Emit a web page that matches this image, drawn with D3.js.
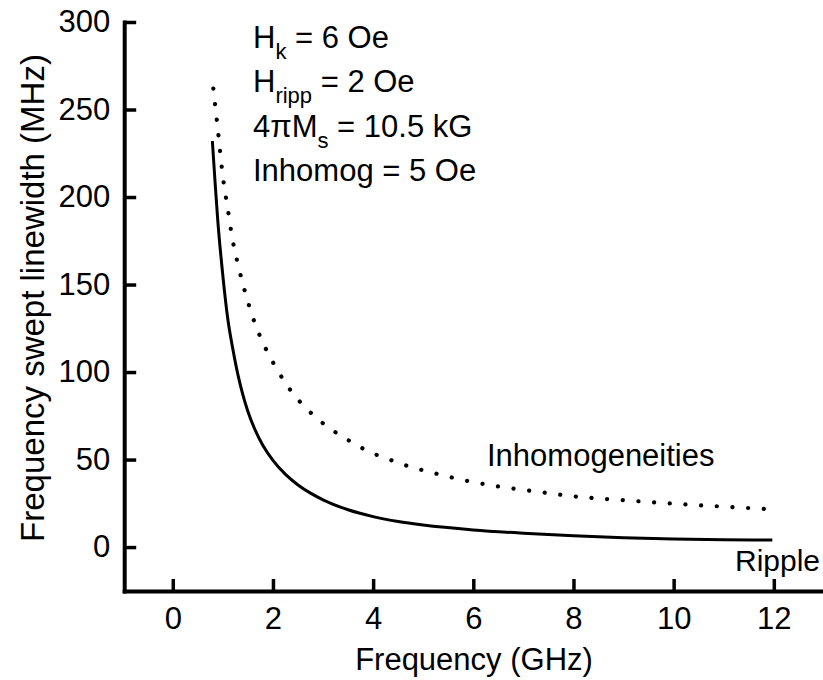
<!DOCTYPE html>
<html>
<head>
<meta charset="utf-8">
<script src="https://cdn.jsdelivr.net/npm/d3@7"></script>
<style>
  html, body { margin: 0; padding: 0; background: #fff; }
  svg { display: block; font-family: "Liberation Sans", Arial, Helvetica, sans-serif; }
</style>
</head>
<body>
<svg id="chart" width="823" height="680"></svg>
<script>
// Frequency (GHz) and swept linewidth (MHz) for the two broadening terms
const rippleFreq = [0.79, 0.85, 0.9, 1.0, 1.1, 1.2, 1.3, 1.4, 1.5, 1.65, 1.8, 2.0, 2.25, 2.5, 2.75, 3.0, 3.5, 4.0, 4.5, 5.0, 6.0, 7.0, 8.0, 9.0, 10.0, 11.0, 11.97];
const rippleWidth = [232, 206, 186, 155, 130, 113, 98.5, 87, 77.5, 66.5, 58, 49.5, 41.5, 35.5, 30.8, 27, 21.3, 17.4, 14.6, 12.6, 9.8, 7.9, 6.4, 5.3, 4.6, 4.2, 4.0];

const inhomFreq = [0.81, 0.9, 1.0, 1.1, 1.2, 1.3, 1.4, 1.53, 1.64, 1.76, 1.91, 2.09, 2.29, 2.54, 2.84, 3.16, 3.48, 3.79, 4.11, 4.42, 4.74, 5.06, 5.38, 5.69, 6.0, 6.5, 7.0, 7.5, 8.0, 9.0, 10.0, 11.0, 11.82];
const inhomWidth = [262, 238.4, 211.7, 192.7, 174.7, 161.7, 150.3, 137.3, 127.8, 119.3, 110.3, 101.1, 92, 83, 74.5, 67.3, 61.5, 56.4, 52.2, 49, 45.9, 43.4, 41.1, 39, 37.1, 34.6, 32.7, 30.8, 29.0, 26.8, 24.8, 23.1, 21.8];

const xTicks = [0, 2, 4, 6, 8, 10, 12];
const yTicks = [0, 50, 100, 150, 200, 250, 300];

const parameterLines = [
  { main: "H", sub: "k", rest: " = 6 Oe" },
  { main: "H", sub: "ripp", rest: " = 2 Oe" },
  { main: "4\u03C0M", sub: "s", rest: " = 10.5 kG" },
  { main: "Inhomog = 5 Oe", sub: "", rest: "" }
];

const svg = d3.select("#chart");

const x = d3.scaleLinear().domain([-0.97, 13.0]).range([124.2, 823.9]);
const y = d3.scaleLinear().domain([-25.1, 300]).range([591, 22]);

const FS = 31;

// y axis (ticks pointing inward)
const yAxis = svg.append("g")
  .attr("transform", `translate(${x(-0.97)},0)`)
  .call(d3.axisLeft(y).tickValues(yTicks).tickSizeInner(-12).tickSizeOuter(0).tickPadding(14));

// x axis (ticks pointing inward)
const xAxis = svg.append("g")
  .attr("transform", `translate(0,${y(-25.1)})`)
  .call(d3.axisBottom(x).tickValues(xTicks).tickSizeInner(-12).tickSizeOuter(0).tickPadding(16));

[yAxis, xAxis].forEach(g => {
  g.attr("font-size", FS).attr("font-family", "Liberation Sans, Arial, sans-serif");
  g.select(".domain").attr("stroke", "#000").attr("stroke-width", 4).attr("stroke-linecap", "square");
  g.selectAll(".tick line").attr("stroke", "#000").attr("stroke-width", 3.5);
  g.selectAll(".tick text").attr("fill", "#000").attr("font-size", FS);
});

// curves
const line = d3.line().x(d => x(d[0])).y(d => y(d[1])).curve(d3.curveMonotoneX);

svg.append("path")
  .datum(d3.zip(rippleFreq, rippleWidth))
  .attr("d", line)
  .attr("fill", "none")
  .attr("stroke", "#000")
  .attr("stroke-width", 3);

svg.append("path")
  .datum(d3.zip(inhomFreq, inhomWidth))
  .attr("d", line)
  .attr("fill", "none")
  .attr("stroke", "#000")
  .attr("stroke-width", 4.2)
  .attr("stroke-linecap", "round")
  .attr("stroke-dasharray", "0.1 15.6");

// axis titles
svg.append("text")
  .attr("x", 474).attr("y", 670)
  .attr("text-anchor", "middle")
  .attr("font-size", FS)
  .text("Frequency (GHz)");

svg.append("text")
  .attr("transform", "translate(44,298) rotate(-90)")
  .attr("text-anchor", "middle")
  .attr("font-size", 33)
  .text("Frequency swept linewidth (MHz)");

// parameter block
const block = svg.append("g").attr("font-size", FS);
parameterLines.forEach((p, i) => {
  const t = block.append("text").attr("x", 253).attr("y", 48 + i * 44.3);
  t.append("tspan").text(p.main);
  if (p.sub) {
    t.append("tspan").attr("font-size", 22).attr("dy", 11).text(p.sub);
    t.append("tspan").attr("dy", -11).text(p.rest);
  }
});

// curve labels
svg.append("text").attr("x", 487).attr("y", 466).attr("font-size", FS).text("Inhomogeneities");
svg.append("text").attr("x", 735).attr("y", 571).attr("font-size", 30).text("Ripple");
</script>
</body>
</html>
